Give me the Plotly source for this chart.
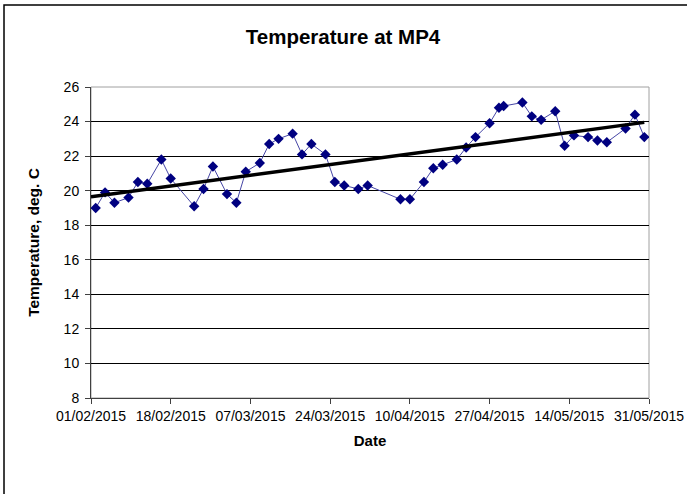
"""Temperature at MP4 - scatter with linear trendline."""

import numpy as np
import pandas as pd
import plotly.graph_objects as go

dates = [
    "2015-02-02", "2015-02-04", "2015-02-06", "2015-02-09", "2015-02-11", "2015-02-13",
    "2015-02-16", "2015-02-18", "2015-02-23", "2015-02-25", "2015-02-27", "2015-03-02",
    "2015-03-04", "2015-03-06", "2015-03-09", "2015-03-11", "2015-03-13", "2015-03-16",
    "2015-03-18", "2015-03-20", "2015-03-23", "2015-03-25", "2015-03-27", "2015-03-30",
    "2015-04-01", "2015-04-08", "2015-04-10", "2015-04-13", "2015-04-15", "2015-04-17",
    "2015-04-20", "2015-04-22", "2015-04-24", "2015-04-27", "2015-04-29", "2015-04-30",
    "2015-05-04", "2015-05-06", "2015-05-08", "2015-05-11", "2015-05-13", "2015-05-15",
    "2015-05-18", "2015-05-20", "2015-05-22", "2015-05-26", "2015-05-28", "2015-05-30",
]
temps = [
    19.0, 19.9, 19.3, 19.6, 20.5, 20.4,
    21.8, 20.7, 19.1, 20.1, 21.4, 19.8,
    19.3, 21.1, 21.6, 22.7, 23.0, 23.3,
    22.1, 22.7, 22.1, 20.5, 20.3, 20.1,
    20.3, 19.5, 19.5, 20.5, 21.3, 21.5,
    21.8, 22.5, 23.1, 23.9, 24.8, 24.9,
    25.1, 24.3, 24.1, 24.6, 22.6, 23.2,
    23.1, 22.9, 22.8, 23.6, 24.4, 23.1,
]
tick_dates = ["2015-02-01", "2015-02-18", "2015-03-07", "2015-03-24",
              "2015-04-10", "2015-04-27", "2015-05-14", "2015-05-31"]
tick_labels = ["01/02/2015", "18/02/2015", "07/03/2015", "24/03/2015",
               "10/04/2015", "27/04/2015", "14/05/2015", "31/05/2015"]

# linear trendline, as Excel would add it, drawn from the axis start
d = pd.to_datetime(dates)
start = pd.Timestamp(tick_dates[0])
days = (d - start).days.to_numpy()
slope, intercept = np.polyfit(days, temps, 1)
trend_x = [start, d[-1]]
trend_y = [intercept, intercept + slope * days[-1]]

fig = go.Figure()
fig.add_trace(go.Scatter(
    x=dates, y=temps, mode="lines+markers",
    line=dict(color="#4646a6", width=1),
    marker=dict(symbol="diamond", size=8, color="#000080"),
    showlegend=False,
))
fig.add_trace(go.Scatter(
    x=trend_x, y=trend_y, mode="lines",
    line=dict(color="black", width=3.5),
    showlegend=False,
))

axis_font = dict(family="Liberation Sans, Arial", size=14, color="black")

fig.update_layout(
    width=687, height=494,
    margin=dict(l=91, r=38, t=87, b=96),
    paper_bgcolor="white", plot_bgcolor="white",
    font=dict(family="Liberation Sans, Arial", color="black"),
    title=dict(text="<b>Temperature at MP4</b>", x=0.4993, xanchor="center",
               y=0.925, yanchor="middle", font=dict(size=20.5, color="black")),
    xaxis=dict(
        type="date", range=["2015-02-01", "2015-05-31"], automargin=False,
        tickvals=tick_dates, ticktext=tick_labels, tickfont=axis_font,
        ticks="outside", ticklen=5, tickcolor="#404040",
        showgrid=False, showline=True, linecolor="#404040", linewidth=1,
        title=dict(text="<b>Date</b>", font=dict(size=15), standoff=12),
    ),
    yaxis=dict(
        range=[8, 26], dtick=2, tickfont=axis_font, automargin=False,
        ticks="outside", ticklen=5, tickcolor="#404040", ticklabelstandoff=3,
        showgrid=True, gridcolor="black", gridwidth=1, zeroline=False,
        showline=True, linecolor="#404040", linewidth=1,
        title=dict(text="<b>Temperature, deg. C</b>", font=dict(size=15.5), standoff=20),
    ),
    shapes=[
        # plot area frame (grey on top and right)
        dict(type="rect", xref="paper", yref="paper", x0=0, y0=0, x1=1, y1=1,
             line=dict(color="#a0a0a0", width=1), layer="below"),
        # chart area border, running off the bottom and right of the picture
        dict(type="rect", xref="paper", yref="paper", x0=-0.1559, y0=-0.5, x1=1.2, y1=1.2637,
             line=dict(color="black", width=1.5)),
    ],
)

# drop the page's default body margin so the figure sits at the window corner
fig.write_html("out.html", config={"displayModeBar": False},
               post_script="document.body.style.margin = '0';")
